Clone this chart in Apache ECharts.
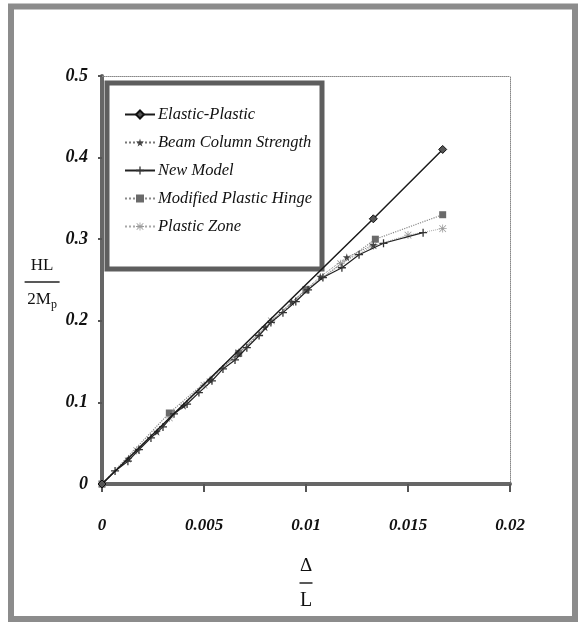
<!DOCTYPE html>
<html>
<head>
<meta charset="utf-8">
<script src="https://cdn.jsdelivr.net/npm/echarts@6/dist/echarts.min.js"></script>
<style>
html,body{margin:0;padding:0;background:#fff;}
#chart{width:578px;height:624px;}
</style>
</head>
<body>
<div id="chart"></div>
<script>
// ---- data ----
const seriesNames = ['Elastic-Plastic', 'Beam Column Strength', 'New Model', 'Modified Plastic Hinge', 'Plastic Zone'];

const epX = [0, 0.0133, 0.0167];
const epY = [0, 0.325, 0.41];

const bcsX = [0, 0.0013, 0.0027, 0.004, 0.0053, 0.0067, 0.008, 0.0093, 0.0107, 0.012, 0.0133];
const bcsY = [0, 0.031, 0.064, 0.096, 0.128, 0.16, 0.192, 0.223, 0.254, 0.278, 0.293];

const nmX = [0, 0.00064, 0.00127, 0.00181, 0.0024, 0.00299, 0.00353, 0.00417, 0.00475, 0.00539, 0.00593, 0.00652, 0.0071, 0.0077, 0.00828, 0.00887, 0.0095, 0.0101, 0.01083, 0.01176, 0.0126, 0.0138, 0.01574];
const nmY = [0, 0.016, 0.028, 0.042, 0.0565, 0.070, 0.086, 0.098, 0.112, 0.1265, 0.141, 0.152, 0.167, 0.182, 0.198, 0.210, 0.2236, 0.238, 0.253, 0.265, 0.281, 0.295, 0.308];

const mphX = [0, 0.0033, 0.0067, 0.01, 0.0134, 0.0167];
const mphY = [0, 0.087, 0.16, 0.238, 0.30, 0.33];

const pzX = [0, 0.0017, 0.0033, 0.005, 0.0067, 0.0083, 0.01, 0.0117, 0.0133, 0.015, 0.0167];
const pzY = [0, 0.041, 0.081, 0.121, 0.161, 0.2, 0.238, 0.27, 0.292, 0.305, 0.313];

const xTickLabels = ['0', '0.005', '0.01', '0.015', '0.02'];
const yTickLabels = ['0', '0.1', '0.2', '0.3', '0.4', '0.5'];

// ---- build ----
function zip(xs, ys) { return xs.map((x, i) => [x, ys[i]]); }

const STAR = 'path://M50,0 L61,35 L98,35 L68,57 L79,91 L50,70 L21,91 L32,57 L2,35 L39,35 Z';
const PLUS = 'path://M0,42 L100,42 L100,58 L0,58 Z M42,0 L58,0 L58,100 L42,100 Z';
const ASTER = 'path://M0,45 L100,45 L100,55 L0,55 Z M45,0 L55,0 L55,100 L45,100 Z M12,5 L95,88 L88,95 L5,12 Z M88,5 L95,12 L12,95 L5,88 Z';

const serif = '"Liberation Serif", "DejaVu Serif", serif';

const chart = echarts.init(document.getElementById('chart'), null, {renderer: 'canvas'});

const option = {
  backgroundColor: '#fff',
  animation: false,
  grid: {left: 102, right: 68, top: 76, bottom: 140, containLabel: false},
  graphic: [
    {type: 'rect', shape: {x: 11, y: 6.5, width: 564, height: 612.5},
     style: {fill: 'none', stroke: '#8c8c8c', lineWidth: 6}, z: 0},
    {type: 'rect', shape: {x: 107, y: 83, width: 215, height: 186},
     style: {fill: '#fff', stroke: '#5e5e5e', lineWidth: 5}, z: 5}
  ],
  legend: {
    orient: 'vertical',
    left: 119, top: 101,
    itemWidth: 30, itemHeight: 10, itemGap: 11,
    z: 10,
    data: seriesNames,
    textStyle: {fontFamily: serif, fontStyle: 'italic', fontSize: 16.5, color: '#111', lineHeight: 17, padding: [0, 0, 0, -2]}
  },
  xAxis: [
    {
      type: 'value', min: 0, max: 0.02, interval: 0.005, position: 'bottom',
      axisLine: {show: true, onZero: false, lineStyle: {color: '#666', width: 4}},
      axisTick: {show: true, length: 8, lineStyle: {color: '#555', width: 2}},
      splitLine: {show: false},
      axisLabel: {
        margin: 33, fontFamily: serif, fontStyle: 'italic', fontWeight: 'bold', fontSize: 17, color: '#111',
        formatter: v => xTickLabels[Math.round(v / 0.005)]
      },
      name: '{a|Δ}\n{bar| }\n{b|L}',
      nameLocation: 'middle', nameGap: 70,
      nameTextStyle: {
        rich: {
          a: {fontFamily: serif, fontSize: 19, lineHeight: 24, color: '#111', align: 'center'},
          bar: {width: 13, height: 1.5, backgroundColor: '#222', lineHeight: 10, fontSize: 2, align: 'center'},
          b: {fontFamily: serif, fontSize: 20, lineHeight: 26, color: '#111', align: 'center'}
        }
      }
    },
    {
      type: 'value', min: 0, max: 0.02, position: 'top',
      axisLine: {show: true, onZero: false, lineStyle: {color: '#888', width: 1, type: 'dotted'}},
      axisTick: {show: false}, axisLabel: {show: false}, splitLine: {show: false}
    }
  ],
  yAxis: [
    {
      type: 'value', min: 0, max: 0.5, interval: 0.1, position: 'left',
      axisLine: {show: true, onZero: false, lineStyle: {color: '#666', width: 4}},
      axisTick: {show: true, length: 4, lineStyle: {color: '#555', width: 2}},
      splitLine: {show: false},
      axisLabel: {
        margin: 14, fontFamily: serif, fontStyle: 'italic', fontWeight: 'bold', fontSize: 18, color: '#111',
        formatter: v => yTickLabels[Math.round(v / 0.1)]
      },
      name: '{a|HL}\n{bar| }\n{b|2M}{s|p}',
      nameLocation: 'middle', nameGap: 40, nameRotate: 0,
      nameTextStyle: {
        padding: [8, 0, 0, 0],
        rich: {
          a: {fontFamily: serif, fontSize: 17, lineHeight: 20, color: '#111', align: 'center'},
          bar: {width: 35, height: 1.5, backgroundColor: '#222', lineHeight: 12, fontSize: 2, align: 'center'},
          b: {fontFamily: serif, fontSize: 17, lineHeight: 24, color: '#111', align: 'center'},
          s: {fontFamily: serif, fontSize: 12, lineHeight: 24, color: '#111', padding: [10, 0, 0, 0], align: 'center'}
        }
      }
    },
    {
      type: 'value', min: 0, max: 0.5, position: 'right',
      axisLine: {show: true, onZero: false, lineStyle: {color: '#888', width: 1, type: 'dotted'}},
      axisTick: {show: false}, axisLabel: {show: false}, splitLine: {show: false}
    }
  ],
  series: [
    {
      name: seriesNames[4], type: 'line', data: zip(pzX, pzY), z: 2,
      symbol: ASTER, symbolSize: 8,
      lineStyle: {color: '#a8a8a8', width: 1, type: 'dotted'},
      itemStyle: {color: '#9a9a9a'}
    },
    {
      name: seriesNames[3], type: 'line', data: zip(mphX, mphY), z: 3,
      symbol: 'rect', symbolSize: 7,
      lineStyle: {color: '#8a8a8a', width: 1.2, type: 'dotted'},
      itemStyle: {color: '#6a6a6a'}
    },
    {
      name: seriesNames[1], type: 'line', data: zip(bcsX, bcsY), z: 4,
      symbol: STAR, symbolSize: 8,
      lineStyle: {color: '#777', width: 1, type: 'dotted'},
      itemStyle: {color: '#444'}
    },
    {
      name: seriesNames[2], type: 'line', data: zip(nmX, nmY), z: 5,
      symbol: PLUS, symbolSize: 8,
      lineStyle: {color: '#222', width: 1.2, type: 'solid'},
      itemStyle: {color: '#333'}
    },
    {
      name: seriesNames[0], type: 'line', data: zip(epX, epY), z: 6,
      symbol: 'diamond', symbolSize: 8,
      lineStyle: {color: '#1a1a1a', width: 1.5, type: 'solid'},
      itemStyle: {color: '#555', borderColor: '#111', borderWidth: 1}
    }
  ]
};
chart.setOption(option);
</script>
</body>
</html>
